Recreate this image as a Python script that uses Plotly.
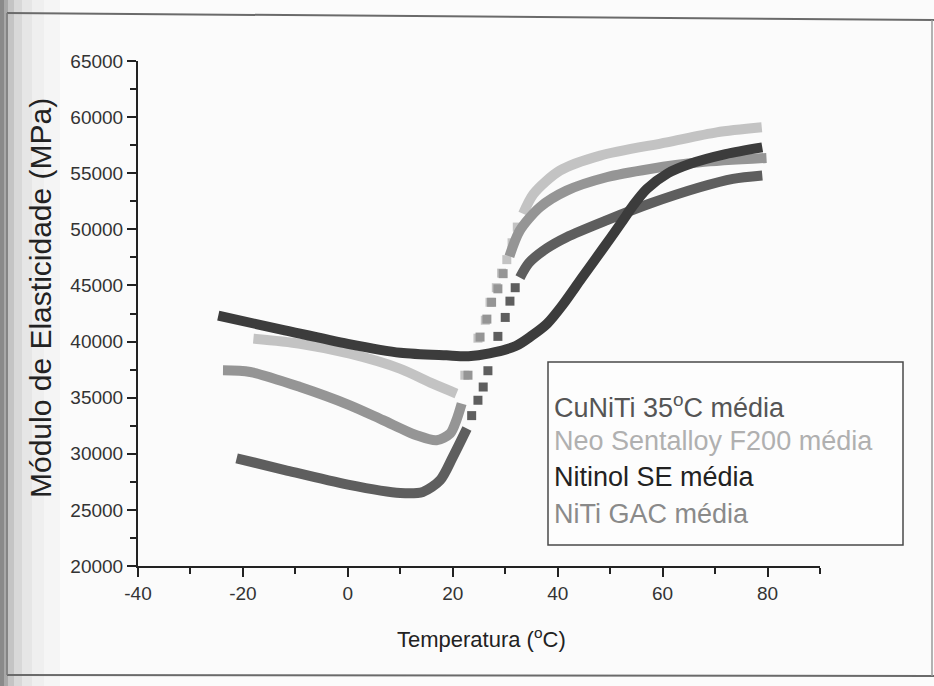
import plotly.graph_objects as go

# ---------------- data ----------------
# Nitinol SE média (darkest)
nit_x = [-24.7, -12, 0, 10, 18.8, 23, 27, 32, 35, 38, 41, 44.5, 48.5, 52, 54.5, 57, 61, 65, 72, 79]
nit_y = [42300, 41000, 39800, 39000, 38770, 38700, 38950, 39600, 40500, 41600, 43300, 45600, 48200, 50500, 52200, 53600, 55000, 55800, 56700, 57300]

# CuNiTi 35°C média : lower branch, sparse jump, upper branch
cu_lo_x = [-21.2, -12, 0, 10, 14.3, 17.6, 20, 22.7]
cu_lo_y = [29600, 28550, 27250, 26500, 26600, 27650, 29700, 32250]
cu_sq_x = [23.6, 24.8, 25.8, 26.7, 28.6, 30.0, 30.9, 31.9]
cu_sq_y = [33400, 34770, 35950, 37400, 40460, 42150, 43600, 44800]
cu_hi_x = [32.8, 34.5, 37.9, 41.7, 49.3, 57.6, 67.1, 73.4, 79]
cu_hi_y = [45700, 47000, 48300, 49300, 50800, 52300, 53750, 54500, 54800]

# NiTi GAC média
gac_lo_x = [-23.8, -18.6, -9.1, 0.4, 6.7, 13.1, 16.9, 19.5, 20.7, 21.7]
gac_lo_y = [37440, 37290, 35950, 34320, 33000, 31650, 31200, 31800, 33000, 34470]
gac_sq_x = [22.9, 25.2, 26.5, 27.4, 28.6, 29.6]
gac_sq_y = [37000, 40400, 42000, 43500, 44700, 46050]
gac_hi_x = [30.8, 32.8, 36.6, 41.7, 49.3, 57.6, 67.1, 79.8]
gac_hi_y = [47600, 49900, 51970, 53450, 54640, 55380, 55970, 56360]

# Neo Sentalloy F200 média (lightest)
neo_lo_x = [-18, -9.1, 0.4, 9.9, 16.2, 20.7]
neo_lo_y = [40260, 39810, 38920, 37590, 36250, 35370]
neo_sq_x = [22.3, 24.8, 26.2, 27.1, 28.3, 29.3, 30.3, 31.3, 32.3]
neo_sq_y = [37000, 40300, 41900, 43500, 44800, 46100, 47300, 48800, 50200]
neo_hi_x = [33.4, 35.4, 40.4, 48.1, 60.8, 70.3, 78.9]
neo_hi_y = [51380, 53160, 55230, 56570, 57750, 58640, 59090]

legend_labels = ["CuNiTi 35<sup>o</sup>C média", "Neo Sentalloy F200 média",
                 "Nitinol SE média", "NiTi GAC média"]
x_ticks = [-40, -20, 0, 20, 40, 60, 80]
x_tick_text = ["-40", "-20", "0", "20", "40", "60", "80"]
y_ticks = [20000, 25000, 30000, 35000, 40000, 45000, 50000, 55000, 60000, 65000]
y_tick_text = [str(v) for v in y_ticks]

# ---------------- styling ----------------
C_NIT = "#3c3c3c"
C_CU = "#5e5e5e"
C_GAC = "#959595"
C_NEO = "#c3c3c3"
LW = 10
MS = 9
FONT = "Liberation Sans, Arial, sans-serif"

W, H = 934, 686
L, R, T, B = 138, 820, 61, 566  # plot area in pixels


def px(x):
    return (x - L) / (R - L)


def py(y):
    return (B - y) / (B - T)


fig = go.Figure()


def add_series(segments, squares, color):
    for sx, sy in segments:
        fig.add_trace(go.Scatter(x=sx, y=sy, mode="lines",
                                 line=dict(color=color, width=LW, shape="spline", smoothing=0.8),
                                 showlegend=False, hoverinfo="skip"))
    if squares:
        sx, sy = squares
        fig.add_trace(go.Scatter(x=sx, y=sy, mode="markers",
                                 marker=dict(symbol="square", size=MS, color=color, line=dict(width=0)),
                                 showlegend=False, hoverinfo="skip"))


add_series([(neo_lo_x, neo_lo_y), (neo_hi_x, neo_hi_y)], (neo_sq_x, neo_sq_y), C_NEO)
add_series([(gac_lo_x, gac_lo_y), (gac_hi_x, gac_hi_y)], (gac_sq_x, gac_sq_y), C_GAC)
add_series([(cu_lo_x, cu_lo_y), (cu_hi_x, cu_hi_y)], (cu_sq_x, cu_sq_y), C_CU)
add_series([(nit_x, nit_y)], None, C_NIT)

shapes = []
# scanned page: left shadow strip
strip_x0 = [0, 4, 8, 14, 22, 32, 44]
strip_x1 = [4, 8, 14, 22, 32, 44, 60]
strip_c = ["#8a8a8a", "#a8a8a8", "#c4c4c4", "#d8d8d8", "#e6e6e6", "#efefef", "#f5f5f5"]
for x0, x1, col in zip(strip_x0, strip_x1, strip_c):
    shapes.append(dict(type="rect", xref="paper", yref="paper",
                       x0=px(x0), x1=px(x1), y0=py(H), y1=py(0),
                       fillcolor=col, line=dict(width=0), layer="below"))
# frame of the photo
shapes.append(dict(type="line", xref="paper", yref="paper", x0=px(7), y0=py(13), x1=px(934), y1=py(20),
                   line=dict(color="#6a6a6a", width=2)))
shapes.append(dict(type="line", xref="paper", yref="paper", x0=px(7), y0=py(675), x1=px(934), y1=py(676),
                   line=dict(color="#6a6a6a", width=2)))
shapes.append(dict(type="line", xref="paper", yref="paper", x0=px(7), y0=py(13), x1=px(7), y1=py(675),
                   line=dict(color="#7a7a7a", width=1.5)))
shapes.append(dict(type="line", xref="paper", yref="paper", x0=px(932), y0=py(20), x1=px(932), y1=py(676),
                   line=dict(color="#9a9a9a", width=1.5)))
# legend box
shapes.append(dict(type="rect", xref="paper", yref="paper", x0=px(548), x1=px(903), y0=py(545), y1=py(362),
                   fillcolor="rgba(255,255,255,0.6)", line=dict(color="#4a4a4a", width=1.5)))

annotations = []
leg_cols = ["#555555", "#b0b0b0", "#222222", "#8a8a8a"]
leg_y = [406, 441, 477, 514]
for lab, col, yy in zip(legend_labels, leg_cols, leg_y):
    annotations.append(dict(text=lab, xref="paper", yref="paper", x=px(552), y=py(yy),
                            xanchor="left", yanchor="middle", showarrow=False,
                            font=dict(family=FONT, size=27, color=col)))
annotations.append(dict(text="Temperatura (<sup>o</sup>C)", xref="paper", yref="paper",
                        x=px(481), y=py(638), xanchor="center", yanchor="middle", showarrow=False,
                        font=dict(family=FONT, size=22, color="#222222")))
annotations.append(dict(text="Módulo de Elasticidade (MPa)", xref="paper", yref="paper",
                        x=px(40), y=py(298), xanchor="center", yanchor="middle", showarrow=False,
                        textangle=-90, font=dict(family=FONT, size=30, color="#222222")))

fig.update_layout(
    width=W, height=H,
    margin=dict(l=L, r=W - R, t=T, b=H - B),
    paper_bgcolor="#fbfbfb", plot_bgcolor="rgba(0,0,0,0)",
    shapes=shapes, annotations=annotations,
    showlegend=False,
    font=dict(family=FONT, color="#333333"),
)
fig.update_xaxes(range=[-40, 90], tickvals=x_ticks, ticktext=x_tick_text, ticks="outside", ticklen=9, tickwidth=2,
                 tickcolor="#222", showline=True, linecolor="#222", linewidth=2, showgrid=False,
                 zeroline=False, tickfont=dict(family=FONT, size=19, color="#333"),
                 minor=dict(dtick=10, tick0=-40, ticks="outside", ticklen=6, tickwidth=2, tickcolor="#222", showgrid=False))
fig.update_yaxes(range=[20000, 65000], tickvals=y_ticks, ticktext=y_tick_text, ticks="outside", ticklen=9, tickwidth=2,
                 tickcolor="#222", showline=True, linecolor="#222", linewidth=2, showgrid=False,
                 zeroline=False, tickfont=dict(family=FONT, size=19, color="#333"),
                 minor=dict(dtick=2500, tick0=20000, ticks="outside", ticklen=6, tickwidth=2, tickcolor="#222", showgrid=False))

fig.write_html("out.html")
